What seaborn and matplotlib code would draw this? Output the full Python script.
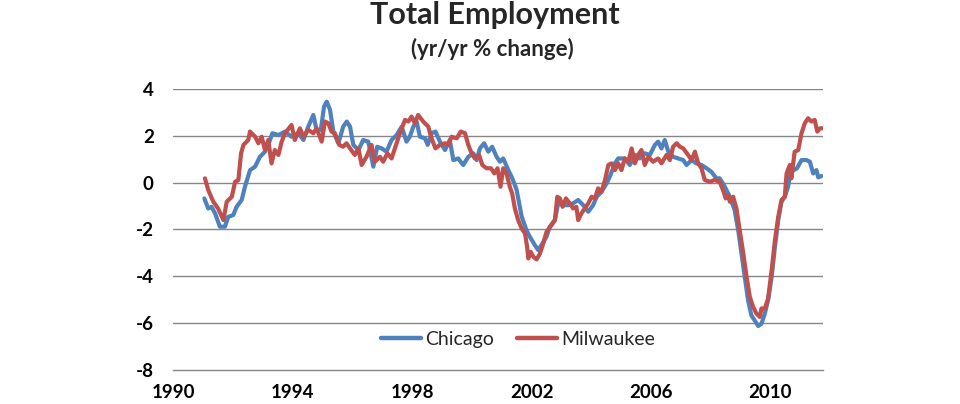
import numpy as np
import pandas as pd
import matplotlib
matplotlib.use("Agg")
import matplotlib.pyplot as plt
import seaborn as sns

chicago_year = [1991.04, 1991.17, 1991.28, 1991.40, 1991.56, 1991.73, 1991.84, 1992.01, 1992.12, 1992.29,
                1992.40, 1992.57, 1992.74, 1992.90, 1993.07, 1993.18, 1993.32, 1993.52, 1993.74, 1993.96,
                1994.19, 1994.36, 1994.52, 1994.69, 1994.80, 1994.94, 1995.05, 1995.14, 1995.25, 1995.36,
                1995.53, 1995.69, 1995.81, 1995.92, 1996.03, 1996.20, 1996.36, 1996.53, 1996.70, 1996.83,
                1996.98, 1997.14, 1997.31, 1997.48, 1997.65, 1997.81, 1997.92, 1998.04, 1998.15, 1998.26,
                1998.43, 1998.52, 1998.65, 1998.78, 1998.93, 1999.10, 1999.26, 1999.38, 1999.54, 1999.71,
                1999.88, 2000.05, 2000.16, 2000.27, 2000.41, 2000.55, 2000.68, 2000.83, 2000.94, 2001.05,
                2001.22, 2001.33, 2001.44, 2001.50, 2001.67, 2001.83, 2001.94, 2002.11, 2002.22, 2002.33,
                2002.50, 2002.61, 2002.78, 2002.89, 2003.06, 2003.23, 2003.39, 2003.56, 2003.73, 2003.90,
                2004.06, 2004.18, 2004.34, 2004.51, 2004.62, 2004.79, 2004.90, 2005.12, 2005.29, 2005.46,
                2005.62, 2005.79, 2005.96, 2006.13, 2006.24, 2006.35, 2006.46, 2006.58, 2006.74, 2006.91,
                2007.08, 2007.19, 2007.36, 2007.52, 2007.69, 2007.86, 2008.02, 2008.19, 2008.30, 2008.47,
                2008.64, 2008.80, 2008.92, 2009.03, 2009.14, 2009.25, 2009.36, 2009.47, 2009.59, 2009.70,
                2009.81, 2009.92, 2010.04, 2010.15, 2010.26, 2010.37, 2010.48, 2010.59, 2010.67, 2010.78,
                2010.89, 2011.04, 2011.21, 2011.32, 2011.43, 2011.54, 2011.60, 2011.71]
chicago_val = [-0.67, -1.10, -1.03, -1.31, -1.88, -1.88, -1.46, -1.38, -1.03, -0.74,
               -0.17, 0.54, 0.69, 1.11, 1.33, 1.62, 2.12, 2.04, 2.19, 1.97,
               2.12, 1.83, 2.40, 2.90, 2.26, 2.26, 3.26, 3.47, 3.12, 2.19,
               1.69, 2.40, 2.62, 2.40, 1.62, 1.40, 1.83, 1.76, 0.69, 1.54,
               1.47, 1.33, 1.83, 2.04, 2.40, 1.76, 1.97, 2.40, 2.62, 1.97,
               1.90, 1.62, 2.12, 2.19, 1.76, 1.40, 1.83, 0.97, 1.04, 0.76,
               1.11, 1.26, 0.97, 1.47, 1.69, 1.33, 1.54, 1.11, 0.90, 1.04,
               0.54, 0.26, -0.10, -0.31, -1.46, -2.03, -2.31, -2.67, -2.88, -2.67,
               -2.31, -1.88, -1.60, -0.88, -0.96, -0.96, -0.88, -0.74, -0.96, -1.24,
               -0.96, -0.60, -0.39, -0.03, 0.26, 0.83, 1.04, 1.04, 0.76, 1.19,
               1.04, 1.26, 1.19, 1.62, 1.76, 1.47, 1.83, 1.33, 1.11, 1.04,
               0.97, 0.76, 0.97, 0.83, 0.76, 0.62, 0.47, 0.19, 0.19, -0.17,
               -0.60, -1.17, -2.03, -3.03, -4.03, -5.03, -5.67, -5.89, -6.13, -6.03,
               -5.60, -5.03, -4.03, -2.74, -1.60, -0.81, -0.60, -0.17, 0.40, 0.54,
               0.62, 0.97, 0.97, 0.90, 0.40, 0.54, 0.23, 0.29]

milwaukee_year = [1991.06, 1991.17, 1991.34, 1991.50, 1991.68, 1991.79, 1991.96, 1992.07, 1992.18, 1992.27,
                  1992.35, 1992.51, 1992.57, 1992.74, 1992.85, 1992.96, 1993.07, 1993.18, 1993.29, 1993.40,
                  1993.52, 1993.63, 1993.74, 1993.96, 1994.07, 1994.24, 1994.36, 1994.52, 1994.69, 1994.80,
                  1994.97, 1995.08, 1995.19, 1995.30, 1995.41, 1995.56, 1995.69, 1995.80, 1995.92, 1996.08,
                  1996.20, 1996.31, 1996.47, 1996.64, 1996.75, 1996.92, 1997.03, 1997.17, 1997.31, 1997.48,
                  1997.59, 1997.76, 1997.87, 1997.98, 1998.09, 1998.20, 1998.37, 1998.54, 1998.65, 1998.78,
                  1998.93, 1999.10, 1999.21, 1999.32, 1999.49, 1999.63, 1999.77, 1999.88, 1999.99, 2000.10,
                  2000.24, 2000.35, 2000.49, 2000.64, 2000.75, 2000.86, 2000.96, 2001.05, 2001.16, 2001.27,
                  2001.35, 2001.44, 2001.55, 2001.67, 2001.78, 2001.85, 2001.89, 2001.97, 2002.06, 2002.17,
                  2002.28, 2002.39, 2002.50, 2002.67, 2002.78, 2002.86, 2002.95, 2003.04, 2003.15, 2003.28,
                  2003.39, 2003.50, 2003.56, 2003.67, 2003.78, 2003.90, 2004.01, 2004.12, 2004.23, 2004.34,
                  2004.46, 2004.57, 2004.68, 2004.79, 2004.90, 2005.01, 2005.12, 2005.24, 2005.35, 2005.46,
                  2005.57, 2005.68, 2005.79, 2005.91, 2006.07, 2006.24, 2006.35, 2006.52, 2006.63, 2006.74,
                  2006.86, 2006.97, 2007.08, 2007.24, 2007.36, 2007.47, 2007.58, 2007.69, 2007.80, 2007.97,
                  2008.13, 2008.30, 2008.41, 2008.50, 2008.58, 2008.64, 2008.75, 2008.86, 2008.97, 2009.09,
                  2009.20, 2009.31, 2009.42, 2009.53, 2009.64, 2009.70, 2009.81, 2009.92, 2010.04, 2010.15,
                  2010.26, 2010.37, 2010.48, 2010.54, 2010.65, 2010.70, 2010.81, 2010.93, 2011.04, 2011.15,
                  2011.26, 2011.37, 2011.48, 2011.57, 2011.66, 2011.74]
milwaukee_val = [0.19, -0.31, -0.81, -1.10, -1.60, -0.81, -0.60, 0.04, 0.12, 1.26,
                 1.62, 1.83, 2.19, 1.97, 1.69, 1.97, 1.40, 1.83, 0.83, 1.40,
                 1.19, 1.76, 2.12, 2.47, 1.83, 2.33, 1.97, 2.26, 2.12, 2.33,
                 1.76, 2.62, 2.55, 2.19, 2.12, 1.62, 1.54, 1.69, 1.47, 1.19,
                 1.47, 0.76, 1.11, 1.62, 0.90, 1.11, 0.90, 1.26, 1.04, 1.69,
                 2.12, 2.69, 2.62, 2.83, 2.55, 2.90, 2.62, 2.40, 1.90, 1.47,
                 1.62, 1.69, 1.62, 1.97, 1.90, 2.19, 2.12, 1.62, 1.26, 1.04,
                 1.19, 0.76, 0.62, 0.62, 0.40, 0.62, -0.17, 0.62, 0.40, -0.17,
                 -0.46, -1.10, -1.60, -1.96, -2.17, -2.74, -3.24, -2.96, -3.17, -3.28,
                 -3.03, -2.60, -2.10, -1.81, -1.60, -0.60, -0.67, -1.03, -0.67, -0.88,
                 -1.10, -1.03, -1.60, -1.31, -1.10, -0.88, -0.60, -0.67, -0.24, -0.39,
                 0.12, 0.76, 0.83, 0.54, 0.83, 0.54, 1.04, 0.90, 1.47, 0.83,
                 1.19, 1.40, 0.76, 1.11, 0.90, 1.04, 0.83, 1.19, 0.97, 1.54,
                 1.69, 1.54, 1.47, 1.19, 0.97, 1.33, 0.83, 0.62, 0.12, 0.04,
                 0.12, 0.04, -0.31, -0.67, -0.53, -0.81, -0.60, -1.10, -2.03, -3.03,
                 -4.03, -4.89, -5.31, -5.60, -5.74, -5.38, -5.38, -4.96, -3.74, -2.46,
                 -1.46, -0.74, -0.60, 0.40, 0.76, 0.19, 1.33, 1.40, 2.12, 2.55,
                 2.76, 2.62, 2.69, 2.19, 2.33, 2.33]

series_names = ["Chicago", "Milwaukee"]
series_colors = ["#4F81BD", "#C0504D"]
x_ticks = [1990, 1994, 1998, 2002, 2006, 2010]
y_ticks = [-8, -6, -4, -2, 0, 2, 4]
title = "Total Employment"
subtitle = "(yr/yr % change)"

df = pd.concat([
    pd.DataFrame({"year": chicago_year, "value": chicago_val, "series": series_names[0]}),
    pd.DataFrame({"year": milwaukee_year, "value": milwaukee_val, "series": series_names[1]}),
], ignore_index=True)

sns.set_theme(style="white")
FONT = ["Lato", "DejaVu Sans"]
plt.rcParams["font.family"] = FONT

fig = plt.figure(figsize=(9.6, 4.04), dpi=100)
fig.patch.set_facecolor("white")
ax = fig.add_axes([0.1805, 0.0849, 0.8573 - 0.1805, 0.779 - 0.0849])

sns.lineplot(data=df, x="year", y="value", hue="series", hue_order=series_names,
             palette=series_colors, estimator=None, sort=False, linewidth=3.0, ax=ax)

ax.set_xlim(1990, 2011.76)
ax.set_ylim(-8, 4)
ax.set_xticks(x_ticks)
ax.set_yticks(y_ticks)
ax.set_xticklabels([str(t) for t in x_ticks], fontweight="bold", fontsize=13.5)
ax.set_yticklabels([str(t) for t in y_ticks], fontweight="bold", fontsize=13.5)
ax.set_xlabel("")
ax.set_ylabel("")
ax.set_facecolor("white")

for y in y_ticks[1:]:
    ax.axhline(y, color="#868686", linewidth=1.0, zorder=0)

for s in ["left", "right", "top"]:
    ax.spines[s].set_visible(False)
ax.spines["bottom"].set_color("#868686")
ax.spines["bottom"].set_linewidth(1.0)
ax.tick_params(axis="x", direction="out", length=6, width=1, color="#868686", pad=4, labelcolor="black")
ax.tick_params(axis="y", length=0, pad=14, labelcolor="black")
ax.grid(False)

leg = ax.legend(loc="lower center", bbox_to_anchor=(0.5305, 0.015), ncol=2, frameon=False,
                fontsize=14, handlelength=2.05, columnspacing=1.2, handletextpad=0.2)
for line in leg.get_lines():
    line.set_linewidth(3.2)

fig.text(0.515, 0.962, title, ha="center", va="center", fontsize=22, fontweight="bold")
fig.text(0.513, 0.879, subtitle, ha="center", va="center", fontsize=16, fontweight="bold")

fig.savefig("out.png", dpi=100, facecolor="white")
